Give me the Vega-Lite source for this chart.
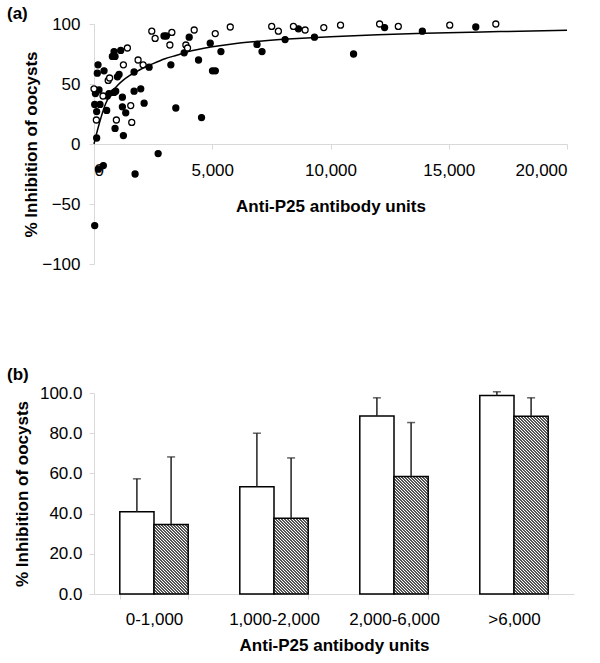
{
  "$schema": "https://vega.github.io/schema/vega-lite/v6.json",
  "background": "white",
  "padding": {"left": 7, "top": 5, "right": 5, "bottom": 5},
  "spacing": 129,
  "bounds": "flush",
  "params": [
    {
      "name": "hatch",
      "value": [
        {"offset":0,"color":"#fff"},{"offset":0.005,"color":"#000"},{"offset":0.01,"color":"#fff"},{"offset":0.015,"color":"#000"},
        {"offset":0.02,"color":"#fff"},{"offset":0.025,"color":"#000"},{"offset":0.03,"color":"#fff"},{"offset":0.035,"color":"#000"},
        {"offset":0.04,"color":"#fff"},{"offset":0.045,"color":"#000"},{"offset":0.05,"color":"#fff"},{"offset":0.055,"color":"#000"},
        {"offset":0.06,"color":"#fff"},{"offset":0.065,"color":"#000"},{"offset":0.07,"color":"#fff"},{"offset":0.075,"color":"#000"},
        {"offset":0.08,"color":"#fff"},{"offset":0.085,"color":"#000"},{"offset":0.09,"color":"#fff"},{"offset":0.095,"color":"#000"},
        {"offset":0.1,"color":"#fff"},{"offset":0.105,"color":"#000"},{"offset":0.11,"color":"#fff"},{"offset":0.115,"color":"#000"},
        {"offset":0.12,"color":"#fff"},{"offset":0.125,"color":"#000"},{"offset":0.13,"color":"#fff"},{"offset":0.135,"color":"#000"},
        {"offset":0.14,"color":"#fff"},{"offset":0.145,"color":"#000"},{"offset":0.15,"color":"#fff"},{"offset":0.155,"color":"#000"},
        {"offset":0.16,"color":"#fff"},{"offset":0.165,"color":"#000"},{"offset":0.17,"color":"#fff"},{"offset":0.175,"color":"#000"},
        {"offset":0.18,"color":"#fff"},{"offset":0.185,"color":"#000"},{"offset":0.19,"color":"#fff"},{"offset":0.195,"color":"#000"},
        {"offset":0.2,"color":"#fff"},{"offset":0.205,"color":"#000"},{"offset":0.21,"color":"#fff"},{"offset":0.215,"color":"#000"},
        {"offset":0.22,"color":"#fff"},{"offset":0.225,"color":"#000"},{"offset":0.23,"color":"#fff"},{"offset":0.235,"color":"#000"},
        {"offset":0.24,"color":"#fff"},{"offset":0.245,"color":"#000"},{"offset":0.25,"color":"#fff"},{"offset":0.255,"color":"#000"},
        {"offset":0.26,"color":"#fff"},{"offset":0.265,"color":"#000"},{"offset":0.27,"color":"#fff"},{"offset":0.275,"color":"#000"},
        {"offset":0.28,"color":"#fff"},{"offset":0.285,"color":"#000"},{"offset":0.29,"color":"#fff"},{"offset":0.295,"color":"#000"},
        {"offset":0.3,"color":"#fff"},{"offset":0.305,"color":"#000"},{"offset":0.31,"color":"#fff"},{"offset":0.315,"color":"#000"},
        {"offset":0.32,"color":"#fff"},{"offset":0.325,"color":"#000"},{"offset":0.33,"color":"#fff"},{"offset":0.335,"color":"#000"},
        {"offset":0.34,"color":"#fff"},{"offset":0.345,"color":"#000"},{"offset":0.35,"color":"#fff"},{"offset":0.355,"color":"#000"},
        {"offset":0.36,"color":"#fff"},{"offset":0.365,"color":"#000"},{"offset":0.37,"color":"#fff"},{"offset":0.375,"color":"#000"},
        {"offset":0.38,"color":"#fff"},{"offset":0.385,"color":"#000"},{"offset":0.39,"color":"#fff"},{"offset":0.395,"color":"#000"},
        {"offset":0.4,"color":"#fff"},{"offset":0.405,"color":"#000"},{"offset":0.41,"color":"#fff"},{"offset":0.415,"color":"#000"},
        {"offset":0.42,"color":"#fff"},{"offset":0.425,"color":"#000"},{"offset":0.43,"color":"#fff"},{"offset":0.435,"color":"#000"},
        {"offset":0.44,"color":"#fff"},{"offset":0.445,"color":"#000"},{"offset":0.45,"color":"#fff"},{"offset":0.455,"color":"#000"},
        {"offset":0.46,"color":"#fff"},{"offset":0.465,"color":"#000"},{"offset":0.47,"color":"#fff"},{"offset":0.475,"color":"#000"},
        {"offset":0.48,"color":"#fff"},{"offset":0.485,"color":"#000"},{"offset":0.49,"color":"#fff"},{"offset":0.495,"color":"#000"},
        {"offset":0.5,"color":"#fff"},{"offset":0.505,"color":"#000"},{"offset":0.51,"color":"#fff"},{"offset":0.515,"color":"#000"},
        {"offset":0.52,"color":"#fff"},{"offset":0.525,"color":"#000"},{"offset":0.53,"color":"#fff"},{"offset":0.535,"color":"#000"},
        {"offset":0.54,"color":"#fff"},{"offset":0.545,"color":"#000"},{"offset":0.55,"color":"#fff"},{"offset":0.555,"color":"#000"},
        {"offset":0.56,"color":"#fff"},{"offset":0.565,"color":"#000"},{"offset":0.57,"color":"#fff"},{"offset":0.575,"color":"#000"},
        {"offset":0.58,"color":"#fff"},{"offset":0.585,"color":"#000"},{"offset":0.59,"color":"#fff"},{"offset":0.595,"color":"#000"},
        {"offset":0.6,"color":"#fff"},{"offset":0.605,"color":"#000"},{"offset":0.61,"color":"#fff"},{"offset":0.615,"color":"#000"},
        {"offset":0.62,"color":"#fff"},{"offset":0.625,"color":"#000"},{"offset":0.63,"color":"#fff"},{"offset":0.635,"color":"#000"},
        {"offset":0.64,"color":"#fff"},{"offset":0.645,"color":"#000"},{"offset":0.65,"color":"#fff"},{"offset":0.655,"color":"#000"},
        {"offset":0.66,"color":"#fff"},{"offset":0.665,"color":"#000"},{"offset":0.67,"color":"#fff"},{"offset":0.675,"color":"#000"},
        {"offset":0.68,"color":"#fff"},{"offset":0.685,"color":"#000"},{"offset":0.69,"color":"#fff"},{"offset":0.695,"color":"#000"},
        {"offset":0.7,"color":"#fff"},{"offset":0.705,"color":"#000"},{"offset":0.71,"color":"#fff"},{"offset":0.715,"color":"#000"},
        {"offset":0.72,"color":"#fff"}
      ]
    }
  ],
  "datasets": {
    "points": [
      {"x": 170, "y": 66, "type": "filled"}, {"x": 140, "y": 59, "type": "filled"}, {"x": 424, "y": 61, "type": "filled"},
      {"x": 847, "y": 77, "type": "filled"}, {"x": 777, "y": 73, "type": "filled"}, {"x": 890, "y": 73, "type": "filled"},
      {"x": 1130, "y": 78, "type": "filled"}, {"x": 1060, "y": 58, "type": "filled"}, {"x": 990, "y": 56, "type": "filled"},
      {"x": 1695, "y": 60, "type": "filled"}, {"x": 2330, "y": 64, "type": "filled"}, {"x": 2960, "y": 90, "type": "filled"},
      {"x": 3060, "y": 90, "type": "filled"}, {"x": 4025, "y": 89, "type": "filled"}, {"x": 3813, "y": 76, "type": "filled"},
      {"x": 3250, "y": 66, "type": "filled"}, {"x": 4420, "y": 70, "type": "filled"}, {"x": 4915, "y": 84, "type": "filled"},
      {"x": 5367, "y": 77, "type": "filled"}, {"x": 5010, "y": 61, "type": "filled"}, {"x": 5130, "y": 61, "type": "filled"},
      {"x": 6893, "y": 83, "type": "filled"}, {"x": 7104, "y": 77, "type": "filled"}, {"x": 8080, "y": 87, "type": "filled"},
      {"x": 8644, "y": 96, "type": "filled"}, {"x": 9322, "y": 89, "type": "filled"}, {"x": 10975, "y": 75, "type": "filled"},
      {"x": 12288, "y": 97, "type": "filled"}, {"x": 13884, "y": 94, "type": "filled"}, {"x": 16143, "y": 97.5, "type": "filled"},
      {"x": 212, "y": 45, "type": "filled"}, {"x": 60, "y": 42, "type": "filled"}, {"x": 635, "y": 42, "type": "filled"},
      {"x": 847, "y": 43, "type": "filled"}, {"x": 565, "y": 40, "type": "filled"}, {"x": 918, "y": 44, "type": "filled"},
      {"x": 1695, "y": 44, "type": "filled"}, {"x": 1977, "y": 46, "type": "filled"}, {"x": 1200, "y": 39, "type": "filled"},
      {"x": 2119, "y": 34, "type": "filled"}, {"x": 30, "y": 33, "type": "filled"}, {"x": 254, "y": 33, "type": "filled"},
      {"x": 113, "y": 27, "type": "filled"}, {"x": 536, "y": 28, "type": "filled"}, {"x": 1200, "y": 31, "type": "filled"},
      {"x": 1342, "y": 26, "type": "filled"}, {"x": 3460, "y": 30, "type": "filled"}, {"x": 4547, "y": 22, "type": "filled"},
      {"x": 890, "y": 13, "type": "filled"}, {"x": 1243, "y": 7, "type": "filled"}, {"x": 113, "y": 5, "type": "filled"},
      {"x": 2712, "y": -8, "type": "filled"}, {"x": 395, "y": -18, "type": "filled"}, {"x": 184, "y": -21, "type": "filled"},
      {"x": 1737, "y": -25, "type": "filled"}, {"x": 30, "y": -68, "type": "filled"},
      {"x": 0, "y": 46, "type": "open"}, {"x": 100, "y": 20, "type": "open"}, {"x": 946, "y": 20, "type": "open"},
      {"x": 1596, "y": 18, "type": "open"}, {"x": 1553, "y": 32, "type": "open"}, {"x": 381, "y": 40, "type": "open"},
      {"x": 600, "y": 53, "type": "open"}, {"x": 660, "y": 55, "type": "open"}, {"x": 1243, "y": 66, "type": "open"},
      {"x": 1412, "y": 80, "type": "open"}, {"x": 1864, "y": 70, "type": "open"}, {"x": 2076, "y": 66, "type": "open"},
      {"x": 2443, "y": 94, "type": "open"}, {"x": 2584, "y": 88, "type": "open"}, {"x": 3292, "y": 93, "type": "open"},
      {"x": 3208, "y": 82.5, "type": "open"}, {"x": 3884, "y": 82.5, "type": "open"}, {"x": 3955, "y": 80, "type": "open"},
      {"x": 4237, "y": 95, "type": "open"}, {"x": 5127, "y": 92, "type": "open"}, {"x": 5762, "y": 97.5, "type": "open"},
      {"x": 7513, "y": 98, "type": "open"}, {"x": 7796, "y": 94, "type": "open"}, {"x": 8432, "y": 98, "type": "open"},
      {"x": 8927, "y": 95, "type": "open"}, {"x": 9716, "y": 97, "type": "open"}, {"x": 10424, "y": 99, "type": "open"},
      {"x": 12076, "y": 100, "type": "open"}, {"x": 12867, "y": 98, "type": "open"}, {"x": 15042, "y": 99, "type": "open"},
      {"x": 16990, "y": 100, "type": "open"}
    ],
    "curve": [
      {"x": 0, "y": 0}, {"x": 100, "y": 8}, {"x": 250, "y": 19}, {"x": 500, "y": 34}, {"x": 750, "y": 43},
      {"x": 1000, "y": 49}, {"x": 1250, "y": 53.5}, {"x": 1500, "y": 57}, {"x": 2000, "y": 62.5}, {"x": 2500, "y": 67},
      {"x": 3000, "y": 71}, {"x": 3500, "y": 74}, {"x": 4000, "y": 77}, {"x": 5000, "y": 81}, {"x": 6000, "y": 83.8},
      {"x": 7000, "y": 85.7}, {"x": 8000, "y": 87.2}, {"x": 9000, "y": 88.4}, {"x": 10000, "y": 89.4}, {"x": 12000, "y": 91},
      {"x": 14000, "y": 92.2}, {"x": 16000, "y": 93.2}, {"x": 18000, "y": 94}, {"x": 20000, "y": 94.8}
    ],
    "bars": [
      {"range": "0-1,000", "series": "Open", "value": 40.9, "upper": 57.3},
      {"range": "0-1,000", "series": "Hatched", "value": 34.6, "upper": 68.2},
      {"range": "1,000-2,000", "series": "Open", "value": 53.3, "upper": 80.0},
      {"range": "1,000-2,000", "series": "Hatched", "value": 37.7, "upper": 67.7},
      {"range": "2,000-6,000", "series": "Open", "value": 88.5, "upper": 97.6},
      {"range": "2,000-6,000", "series": "Hatched", "value": 58.5, "upper": 85.3},
      {"range": ">6,000", "series": "Open", "value": 98.8, "upper": 100.6},
      {"range": ">6,000", "series": "Hatched", "value": 88.4, "upper": 97.6}
    ]
  },
  "vconcat": [
    {
      "width": 473,
      "height": 240,
      "title": {"text": "(a)", "anchor": "start", "frame": "group", "dx": -87, "offset": -21, "baseline": "alphabetic"},
      "layer": [
        {
          "data": {"name": "points"},
          "mark": {"type": "point", "shape": "circle", "filled": true, "size": 36, "stroke": "black", "strokeWidth": 1.3, "opacity": 1},
          "encoding": {
            "x": {
              "field": "x", "type": "quantitative",
              "scale": {"domain": [0, 20000], "nice": false},
              "axis": {"offset": -120, "values": [0, 5000, 10000, 15000, 20000], "format": ",.0f", "title": "Anti-P25 antibody units", "labelPadding": 13, "titlePadding": 20}
            },
            "y": {
              "field": "y", "type": "quantitative",
              "scale": {"domain": [-100, 100], "nice": false, "zero": false},
              "axis": {"values": [-100, -50, 0, 50, 100], "title": "% Inhibition of oocysts", "labelPadding": 9, "titlePadding": 1}
            },
            "fill": {
              "field": "type", "type": "nominal",
              "scale": {"domain": ["filled", "open"], "range": ["black", "white"]},
              "legend": null
            }
          }
        },
        {
          "data": {"name": "curve"},
          "mark": {"type": "line", "color": "black", "strokeWidth": 1.5, "interpolate": "monotone"},
          "encoding": {
            "x": {"field": "x", "type": "quantitative"},
            "y": {"field": "y", "type": "quantitative"}
          }
        }
      ]
    },
    {
      "width": 480,
      "height": 201,
      "title": {"text": "(b)", "anchor": "start", "frame": "group", "dx": -87, "offset": -13, "baseline": "alphabetic"},
      "data": {"name": "bars"},
      "encoding": {
        "x": {
          "field": "range", "type": "nominal",
          "sort": ["0-1,000", "1,000-2,000", "2,000-6,000", ">6,000"],
          "scale": {"paddingInner": 0.43, "paddingOuter": 0.215},
          "axis": {"labelAngle": 0, "tickBand": "extent", "title": "Anti-P25 antibody units", "labelPadding": 12, "titlePadding": 10}
        },
        "xOffset": {"field": "series", "type": "nominal", "sort": ["Open", "Hatched"], "scale": {"domain": ["Open", "Hatched"]}}
      },
      "layer": [
        {
          "mark": {
            "type": "bar", "stroke": "black", "strokeWidth": 1.5,
            "fill": {"expr": "datum.series == 'Hatched' ? {gradient: 'linear', x1: 0, y1: 1, x2: 10260 / (1169.64 + pow(datum.value * 2.01, 2)), y2: 1 - 603 * datum.value / (1169.64 + pow(datum.value * 2.01, 2)), stops: hatch} : '#ffffff'"}
          },
          "encoding": {
            "y": {
              "field": "value", "type": "quantitative",
              "scale": {"domain": [0, 100], "nice": false},
              "axis": {"values": [0, 20, 40, 60, 80, 100], "format": ".1f", "title": "% Inhibition of oocysts", "labelPadding": 7, "titlePadding": 8}
            }
          }
        },
        {
          "mark": {"type": "rule", "color": "#222222", "strokeWidth": 1.5},
          "encoding": {
            "y": {"field": "value", "type": "quantitative"},
            "y2": {"field": "upper"}
          }
        },
        {
          "mark": {"type": "tick", "color": "#222222", "thickness": 1.5, "size": 8},
          "encoding": {
            "y": {"field": "upper", "type": "quantitative"}
          }
        }
      ]
    }
  ],
  "config": {
    "font": "Liberation Sans",
    "view": {"stroke": null},
    "axis": {
      "grid": false,
      "labelFontSize": 17,
      "labelColor": "#000000",
      "titleFontSize": 17,
      "titleFontWeight": "bold",
      "titleColor": "#000000",
      "domainColor": "#d9d9d9",
      "tickColor": "#d9d9d9",
      "tickSize": 5
    },
    "title": {"fontSize": 17, "fontWeight": "bold", "color": "#000000"}
  }
}
